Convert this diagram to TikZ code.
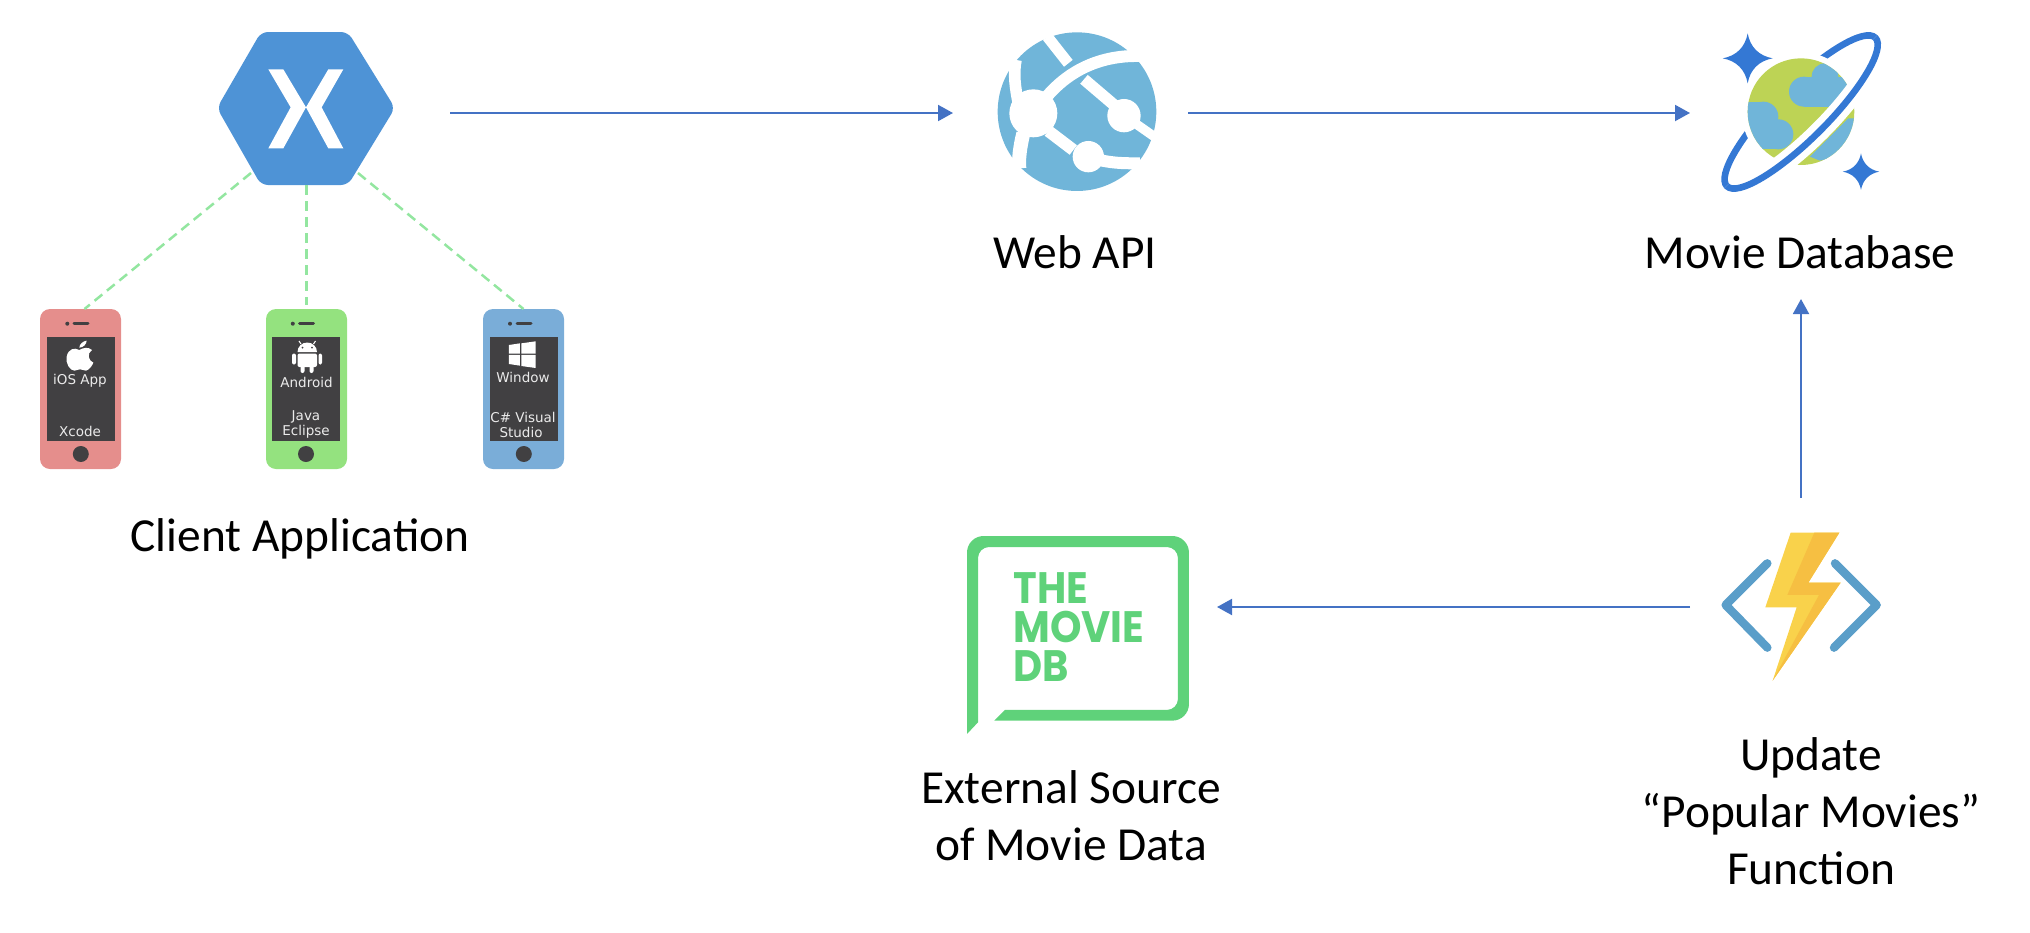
\documentclass[tikz,border=0pt]{standalone}
\usepackage{fontspec}
\usepackage{xcolor}
\usepackage{tikz}
\usetikzlibrary{arrows.meta}
\usetikzlibrary{calc}
\usetikzlibrary{positioning}
\setmainfont{Carlito}
\newfontfamily\phonefont{DejaVu Sans}
\newfontfamily\tmdbfont[FakeStretch=0.91]{Poppins}
\definecolor{xamblue}{HTML}{4E93D6}
\definecolor{flowblue}{HTML}{4472C4}
\definecolor{dashgreen}{HTML}{93E6A0}
\definecolor{iospink}{HTML}{E58E8C}
\definecolor{droidgreen}{HTML}{94E27F}
\definecolor{winblue}{HTML}{7AADD8}
\definecolor{screendark}{HTML}{414042}
\definecolor{apiblue}{HTML}{70B5D9}
\definecolor{ringblue}{HTML}{3478D4}
\definecolor{earthgreen}{HTML}{BDD355}
\definecolor{tmdbgreen}{HTML}{5FD27A}
\definecolor{bracketblue}{HTML}{5A9EC9}
\definecolor{boltlight}{HTML}{F9D24B}
\definecolor{boltdark}{HTML}{F6BF42}
\newcommand{\sparkle}[3]{\fill[ringblue] (#1-#3,#2) .. controls (#1-.45*#3,#2-.1*#3) and (#1-.1*#3,#2-.45*#3) .. (#1,#2-#3) .. controls (#1+.1*#3,#2-.45*#3) and (#1+.45*#3,#2-.1*#3) .. (#1+#3,#2) .. controls (#1+.45*#3,#2+.1*#3) and (#1+.1*#3,#2+.45*#3) .. (#1,#2+#3) .. controls (#1-.1*#3,#2+.45*#3) and (#1-.45*#3,#2+.1*#3) .. (#1-#3,#2) -- cycle;}
\begin{document}
\begin{tikzpicture}[x=0.5pt,y=-0.5pt,>={Triangle[width=8pt,length=7.5pt]},auto]
	\tikzstyle{flow}=[->,draw=flowblue,line width=1pt]
	\tikzstyle{link}=[draw=dashgreen,line width=1.25pt,dash pattern=on 5pt off 3pt]
	\tikzstyle{iconbox}=[inner sep=0pt,outer sep=0pt]
	\tikzstyle{lbl}=[inner sep=0pt,align=center,font=\fontsize{23.7}{28.6}\selectfont]
	\tikzstyle{phone}=[inner sep=0pt,outer sep=0pt,minimum width=40.5pt,minimum height=80pt,rounded corners=5pt]
	\tikzstyle{scr}=[inner sep=0pt,fill=screendark,minimum width=34pt,minimum height=52pt]
	\tikzstyle{homebtn}=[circle,inner sep=0pt,fill=screendark,minimum size=8pt]
	\tikzstyle{phonetxt}=[inner sep=0pt,text=white!92!black,font=\phonefont\fontsize{6.75}{8}\selectfont]
	\tikzstyle{band}=[draw=white,line cap=butt]
	\useasboundingbox (0,0) rectangle (2030,932);

	\node[iconbox,minimum width=86pt,minimum height=82pt] (xamarin) at (306,113) {};
	\node[iconbox,minimum width=80pt,minimum height=80pt] (webapi) [right of=xamarin,node distance=385.5pt] {};
	\node[iconbox,minimum width=80pt,minimum height=80pt] (cosmos) [right of=webapi,node distance=362pt] {};
	\node[iconbox,minimum width=80pt,minimum height=74pt] (azfunc) [below of=cosmos,node distance=247pt] {};
	\node[iconbox,minimum width=111pt,minimum height=71pt] (tmdb) [left of=azfunc,node distance=361.5pt] {};

	% xamarin
	\fill[xamblue,rounded corners=3.5pt] (261,32) -- (348,32) -- (395,108) -- (348,185) -- (261,185) -- (217,108) -- cycle;
	\begin{scope}[shift={(200,20)},scale=0.3333]
		\fill[white] (205,148) -- (250,148) -- (318,262) -- (385,148) -- (430,148) -- (365,262) -- (430,385) -- (385,385) -- (318,262) -- (250,385) -- (205,385) -- (272,262) -- cycle;
	\end{scope}

	% phones
	\node[phone,fill=iospink] (ios) at (80.5,389) {};
	\node[scr] (iosscr) at (80.8,388.7) {};
	\node[homebtn] (ioshome) at (80.8,454) {};
	\node[phone,fill=droidgreen] (droid) at (306.5,389) {};
	\node[scr] (droidscr) at (306,388.7) {};
	\node[homebtn] (droidhome) at (306,454) {};
	\node[phone,fill=winblue] (winph) at (523.5,389) {};
	\node[scr] (winscr) at (523.8,388.7) {};
	\node[homebtn] (winhome) at (523.8,454) {};
	\fill[screendark] (67.3,323.7) circle (2) (292.8,323.7) circle (2) (510,323.7) circle (2);
	\draw[screendark,line width=1.5pt,line cap=round] (74,323.7) -- (88,323.7) (299.5,323.7) -- (313.5,323.7) (517,323.7) -- (531,323.7);

	% apple
	\begin{scope}[shift={(20,300)},scale=0.3333]
		\fill[white] (178,150) .. controls (165,142) and (145,145) .. (140,170) .. controls (136,190) and (150,212) .. (163,212) .. controls (170,212) and (172,208) .. (180,208) .. controls (188,208) and (190,212) .. (198,212) .. controls (208,210) and (218,195) .. (220,188) .. controls (205,182) and (200,160) .. (216,150) .. controls (205,140) and (190,143) .. (178,150) -- cycle;
		\fill[white] (178,143) .. controls (178,132) and (190,123) .. (200,122) .. controls (200,132) and (190,143) .. (178,143) -- cycle;
	\end{scope}
	% android
	\fill[white] (297.5,352) arc (180:360:9.75 and 9.5) -- cycle;
	\fill[white,rounded corners=1pt] (297.5,353.5) rectangle (317,367);
	\fill[white,rounded corners=1pt] (292,353.5) rectangle (296,364.5) (318.5,353.5) rectangle (322,364.5) (300.5,365) rectangle (304.5,373) (309.5,365) rectangle (313.5,373);
	\draw[white,line width=0.5pt] (301,344) -- (299,341) (313.5,344) -- (315.5,341);
	\fill[screendark] (302.5,347.5) circle (1) (312,347.5) circle (1);
	% windows
	\begin{scope}[shift={(300,300)},scale=0.3333]
		\fill[white] (627,135) -- (660,130) -- (660,161) -- (627,161) -- cycle;
		\fill[white] (664,130) -- (707,124) -- (707,161) -- (664,161) -- cycle;
		\fill[white] (627,165) -- (660,165) -- (660,197) -- (627,192) -- cycle;
		\fill[white] (664,165) -- (707,165) -- (707,204) -- (664,198) -- cycle;
	\end{scope}

	\node[phonetxt] (iostxt) at (80,381) {iOS App};
	\node[phonetxt] (iostool) at (80,431) {Xcode};
	\node[phonetxt] (droidtxt) at (306.5,382) {Android};
	\node[phonetxt] (droidjava) at (306,417) {Java};
	\node[phonetxt] (droidtool) at (306,432) {Eclipse};
	\node[phonetxt] (wintxt) at (523,377) {Window};
	\node[phonetxt] (wincs) at (523,417) {C\# Visual};
	\node[phonetxt] (wintool) at (521,432) {Studio};

	% web api
	\begin{scope}[shift={(980,10)},scale=0.3333]
		\fill[apiblue] (291,305) circle (238);
		\draw[band,line width=5.5pt] (202,80) -- (265,160);
		\draw[band,line width=6pt] (200,260) .. controls (260,190) and (350,135) .. (480,138);
		\draw[band,line width=5.8pt] (312,208) -- (420,300);
		\draw[band,line width=4.7pt] (470,343) -- (530,385);
		\draw[band,line width=6pt] (205,363) -- (280,420);
		\draw[band,line width=6pt] (340,445) .. controls (390,460) and (430,460) .. (480,460);
		\draw[band,line width=5.8pt] (115,280) .. controls (105,230) and (100,190) .. (108,150);
		\draw[band,line width=7pt] (130,370) .. controls (120,410) and (115,450) .. (118,475);
		\fill[white] (160,310) circle (72) (432,317) circle (50) (325,440) circle (47);
	\end{scope}

	% cosmos db
	\begin{scope}[shift={(1700,10)},scale=0.3333]
		\draw[ringblue,line width=3.3pt] (303.5,306) [rotate around={45:(303.5,306)}] ellipse (315 and 80);
		\fill[white] (303,305) circle (178);
		\fill[earthgreen] (303,305) circle (160);
		\begin{scope}
			\clip (303,305) circle (160);
			\fill[apiblue] (312,245) circle (45) (375,200) circle (40);
			\fill[apiblue] (312,200) rectangle (470,290);
			\fill[apiblue] (190,320) circle (45) (235,373) circle (45);
			\fill[apiblue] (130,275) rectangle (190,417);
			\fill[apiblue] (185,320) rectangle (235,417);
			\fill[apiblue] (330,440) -- (445,325) -- (480,325) -- (480,420) -- (360,452) -- cycle;
		\end{scope}
		\begin{scope}
			\clip (700,-92) -- (-94,702) -- (700,702) -- cycle;
			\draw[white,line width=10pt] (303.5,306) [rotate around={45:(303.5,306)}] ellipse (315 and 80);
			\draw[ringblue,line width=3.3pt] (303.5,306) [rotate around={45:(303.5,306)}] ellipse (315 and 80);
		\end{scope}
		\sparkle{143}{145}{75}
		\sparkle{483}{485}{55}
	\end{scope}

	% azure function
	\begin{scope}[shift={(1680,510)},scale=0.3333]
		\draw[bracketblue,line width=4.2pt,line cap=round,line join=round] (262,160) -- (137,285) -- (262,413);
		\draw[bracketblue,line width=4.2pt,line cap=round,line join=round] (465,160) -- (590,285) -- (462,413);
		\fill[boltlight] (332,68) -- (478,68) -- (385,218) -- (482,218) -- (278,512) -- (350,292) -- (256,292) -- cycle;
		\fill[boltdark] (403,68) -- (478,68) -- (385,218) -- (482,218) -- (278,512) -- (417,255) -- (322,255) -- cycle;
	\end{scope}

	% tmdb
	\begin{scope}[shift={(940,510)},scale=0.3333]
		\fill[tmdbgreen] (81,672) [rounded corners=8.3pt] -- (81,78) -- (747,78) -- (747,632) [sharp corners] -- (163,632) -- (195,600) [rounded corners=5.6pt] -- (714,600) -- (714,111) -- (114,111) [sharp corners] -- (114,637) -- cycle;
	\end{scope}
	\node[inner sep=0pt,anchor=north west,align=left,text=tmdbgreen,font=\tmdbfont\bfseries\fontsize{22}{19.5}\selectfont] (tmdbname) at (1013,572) {THE\\MOVIE\\DB};

	\node[lbl] (clientlbl) at (300,539) {Client Application};
	\node[lbl] (apilbl) at (1075,252) {Web API};
	\node[lbl] (cosmoslbl) at (1800,252) {Movie Database};
	\node[lbl] (tmdblbl) at (1071,816) {External Source\\of Movie Data};
	\node[lbl] (funclbl) at (1811,811) {Update\\``Popular Movies''\\Function};

	\draw[flow,shorten <=29pt,shorten >=22pt] (xamarin) -- (webapi);
	\draw[flow,shorten <=15.5pt,shorten >=15.5pt] (webapi) -- (cosmos);
	\draw[flow,shorten <=17.5pt,shorten >=15pt] (azfunc) -- (azfunc |- cosmoslbl.south);
	\draw[flow,shorten <=15.5pt,shorten >=14pt] (azfunc) -- (tmdb);

	\coordinate (xamleft) at (251,173);
	\coordinate (xamright) at (358,173);
	\coordinate (xambottom) at (306.5,185);
	\draw[link] (xamleft) -- ([xshift=2pt]ios.north);
	\draw[link] (xambottom) -- ([yshift=2pt]droid.north);
	\draw[link] (xamright) -- (winph.north);
\end{tikzpicture}
\end{document}
